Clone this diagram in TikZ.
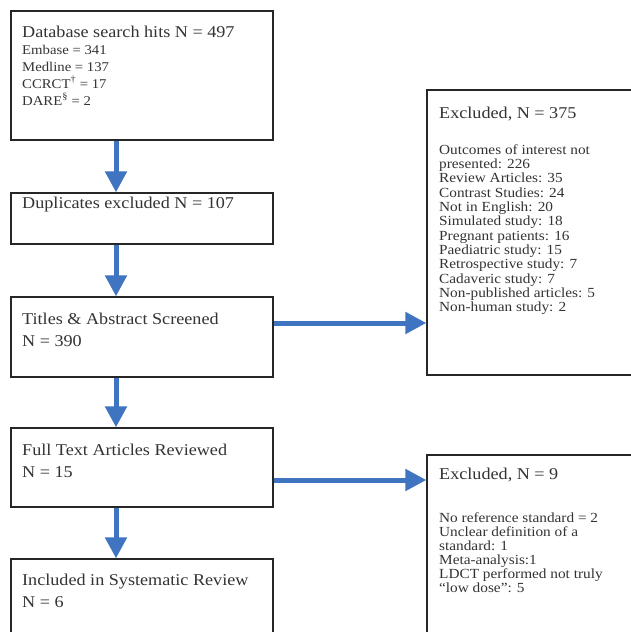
\documentclass[tikz,border=0pt]{standalone}
\usepackage{fontspec}
\setmainfont[FakeStretch=1.1]{Liberation Serif}
\usetikzlibrary{arrows.meta}
\definecolor{arrowblue}{HTML}{3F74C0}
\definecolor{txt}{HTML}{333333}
\begin{document}
\begin{tikzpicture}[x=1pt,y=-1pt,
  box/.style={draw=black!85, line width=1.3pt, minimum width=262pt, inner sep=0pt},
  rbox/.style={draw=black!85, line width=1.3pt, minimum width=223pt, inner sep=0pt},
  flow/.style={arrowblue, line width=5pt, -{Triangle[length=21pt,width=21pt]}},
  big/.style={anchor=base west, font=\fontsize{16.5}{19}\selectfont, text=txt, inner sep=0pt},
  small/.style={anchor=base west, font=\fontsize{13.4}{14}\selectfont, text=txt, inner sep=0pt},
  rsmall/.style={anchor=base west, font=\fontsize{13.9}{14}\selectfont, text=txt, inner sep=0pt}]
\useasboundingbox (0,0) rectangle (631,632);
\clip (0,0) rectangle (631,632);
\fill[white] (0,0) rectangle (631,632);

% boxes
\node[box, minimum height=129pt] (b1) at (142,75.5) {};
\node[box, minimum height=51pt] (b2) at (142,218.5) {};
\node[box, minimum height=80pt] (b3) at (142,337) {};
\node[box, minimum height=79pt] (b4) at (142,467.5) {};
\node[box, minimum height=91pt] (b5) at (142,604.5) {};
\node[rbox, minimum height=285pt] (r1) at (538.5,232.5) {};
\node[rbox, minimum height=195pt] (r2) at (538.5,552.5) {};

% texts left column
\node[big] (t1) at (22,37) {Database search hits N = 497};
\node[small] (t1a) at (22,54) {Embase = 341};
\node[small] (t1b) at (22,71) {Medline = 137};
\node[small] (t1c) at (22,88) {CCRCT\textsuperscript{†} = 17};
\node[small] (t1d) at (22,105) {DARE\textsuperscript{§} = 2};
\node[big] (t2) at (22,208) {Duplicates excluded N = 107};
\node[big] (t3a) at (22,324) {Titles \& Abstract Screened};
\node[big] (t3b) at (22,346) {N = 390};
\node[big] (t4a) at (22,455) {Full Text Articles Reviewed};
\node[big] (t4b) at (22,477) {N = 15};
\node[big] (t5a) at (22,585) {Included in Systematic Review};
\node[big] (t5b) at (22,607) {N = 6};

% right column
\node[big] (e1) at (439,118) {Excluded, N = 375};
\foreach \t [count=\i from 0] in {Outcomes of interest not, presented: 226, Review Articles: 35, Contrast Studies: 24, Not in English: 20, Simulated study: 18, Pregnant patients: 16, Paediatric study: 15, Retrospective study: 7, Cadaveric study: 7, Non-published articles: 5, Non-human study: 2}
  \node[rsmall] (e1l\i) at (439,{154+14.36*\i}) {\t};
\node[big] (e2) at (439,479) {Excluded, N = 9};
\foreach \t [count=\i from 0] in {No reference standard = 2, Unclear definition of a, standard: 1, Meta-analysis:1, LDCT performed not truly, ``low dose'': 5}
  \node[rsmall] (e2l\i) at (439,{522+14*\i}) {\t};

% arrows
\draw[flow] ([xshift=-26pt]b1.south) -- ([xshift=-26pt]b2.north);
\draw[flow] ([xshift=-26pt]b2.south) -- ([xshift=-26pt]b3.north);
\draw[flow] ([xshift=-26pt]b3.south) -- ([xshift=-26pt]b4.north);
\draw[flow] ([xshift=-26pt]b4.south) -- ([xshift=-26pt]b5.north);
\draw[flow] ([yshift=14pt]b3.east) coordinate (a3) -- (a3 -| r1.west);
\draw[flow] ([yshift=-12.5pt]b4.east) coordinate (a4) -- (a4 -| r2.west);
\end{tikzpicture}
\end{document}
